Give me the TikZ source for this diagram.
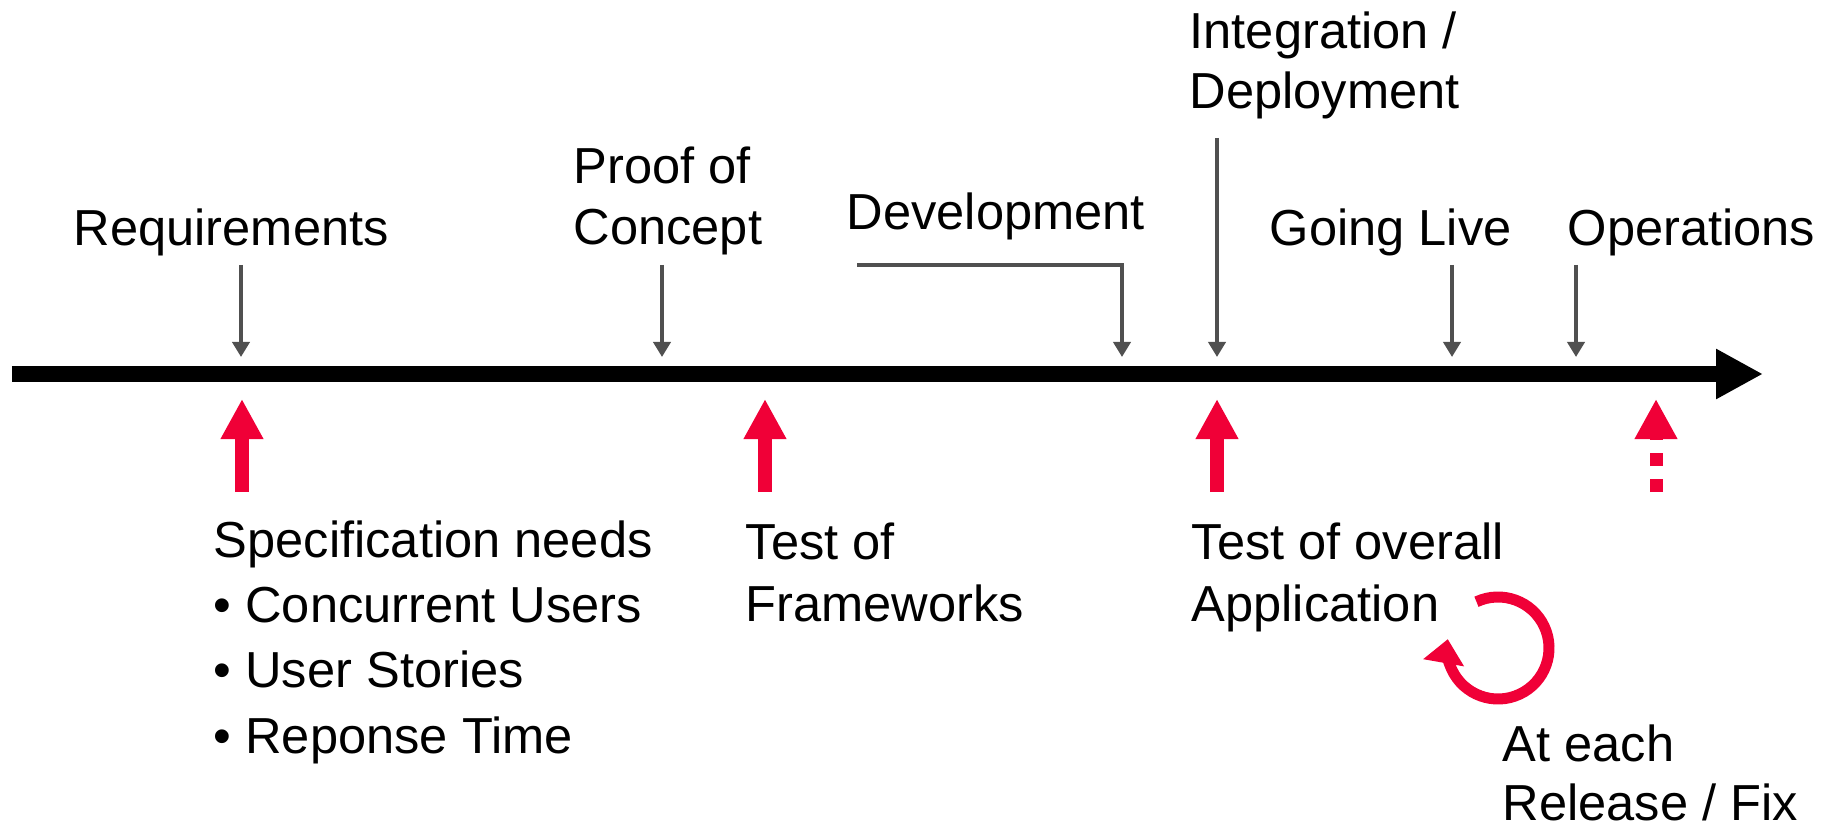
\documentclass[tikz,border=0pt]{standalone}
\usepackage{fontspec}
\setmainfont{Liberation Sans}
\usetikzlibrary{arrows.meta}
\usetikzlibrary{positioning}
\definecolor{testred}{RGB}{240,0,55}
\definecolor{markgray}{RGB}{80,80,80}
\tikzset{
    phase/.style={
           anchor=base west,
           inner sep=0pt,
           align=left,
           font=\fontsize{14.4pt}{17.6pt}\selectfont,
           },
    timeline/.style={
           line width=0.16cm,
           -{Triangle[width=0.47cm,length=0.47cm]},
           },
    phasemark/.style={
           draw=markgray,
           line width=0.04cm,
           -{Triangle[width=0.17cm,length=0.15cm]},
           },
    testarrow/.style={
           draw=testred,
           line width=0.14cm,
           -{Triangle[width=0.40cm,length=0.40cm]},
           },
}

\begin{document}
\begin{tikzpicture}

 \useasboundingbox (0,0) rectangle (18.36,8.28);

 % the time axis
 \coordinate (start) at (0.12,4.54);
 \coordinate (end) at (17.63,4.54);
 \draw[timeline] (start) -- (end);

 % phases above the axis (base = last line)
 \node[phase] (Req) at (0.73,5.82) {Requirements};
 \node[phase] (PoC) at (5.73,5.83) {Proof of\\Concept};
 \node[phase] (Dev) at (8.46,5.98) {Development};
 \node[phase] (Int) at (11.89,7.19) {Integration /\\[-0.4pt]Deployment};
 \node[phase] (Live) at (12.69,5.82) {Going Live};
 \node[phase] (Ops) at (15.67,5.82) {Operations};

 % where the phases hit the axis
 \coordinate (Req-in) at (2.41,5.63);
 \coordinate (Req-on) at (2.41,4.71);
 \coordinate (PoC-in) at (6.62,5.63);
 \coordinate (PoC-on) at (6.62,4.71);
 \coordinate (Dev-in) at (8.57,5.63);
 \coordinate (Dev-on) at (11.22,4.71);
 \coordinate (Int-in) at (12.17,6.90);
 \coordinate (Int-on) at (12.17,4.71);
 \coordinate (Live-in) at (14.52,5.63);
 \coordinate (Live-on) at (14.52,4.71);
 \coordinate (Ops-in) at (15.76,5.63);
 \coordinate (Ops-on) at (15.76,4.71);

 \draw[phasemark] (Req-in) -- (Req-on);
 \draw[phasemark] (PoC-in) -- (PoC-on);
 \draw[phasemark] (Dev-in) -| (Dev-on);
 \draw[phasemark] (Int-in) -- (Int-on);
 \draw[phasemark] (Live-in) -- (Live-on);
 \draw[phasemark] (Ops-in) -- (Ops-on);

 % tests below the axis
 \node[phase] (Spec) at (2.13,0.75)
 {Specification needs\\[0.9pt]
  \textbullet{} Concurrent Users\\[0.9pt]
  \textbullet{} User Stories\\[0.9pt]
  \textbullet{} Reponse Time};
 \node[phase] (Frame) at (7.45,2.07) {Test of\\Frameworks};
 \node[phase] (App) at (11.91,2.07) {Test of overall\\Application};
 \node[phase] (Each) at (15.02,0.08) {At each\\[-1pt]Release / Fix};

 \coordinate (Spec-from) at (2.42,3.36);
 \coordinate (Spec-to) at (2.42,4.29);
 \coordinate (Frame-from) at (7.65,3.36);
 \coordinate (Frame-to) at (7.65,4.29);
 \coordinate (App-from) at (12.17,3.36);
 \coordinate (App-to) at (12.17,4.29);
 \coordinate (Ops-from) at (16.56,3.36);
 \coordinate (Ops-to) at (16.56,4.29);

 \draw[testarrow] (Spec-from) -- (Spec-to);
 \draw[testarrow] (Frame-from) -- (Frame-to);
 \draw[testarrow] (App-from) -- (App-to);
 \draw[testarrow,line width=0.13cm,dash pattern=on 0.13cm off 0.13cm]
  (Ops-from) -- (Ops-to);

 % repeat loop
 \coordinate (loop) at (14.98,1.80);
 \draw[draw=testred,line width=0.11cm,-{Triangle[width=0.40cm,length=0.24cm]}]
  (loop) ++(115:0.51) arc[start angle=115,end angle=-190,radius=0.51];

\end{tikzpicture}
\end{document}
